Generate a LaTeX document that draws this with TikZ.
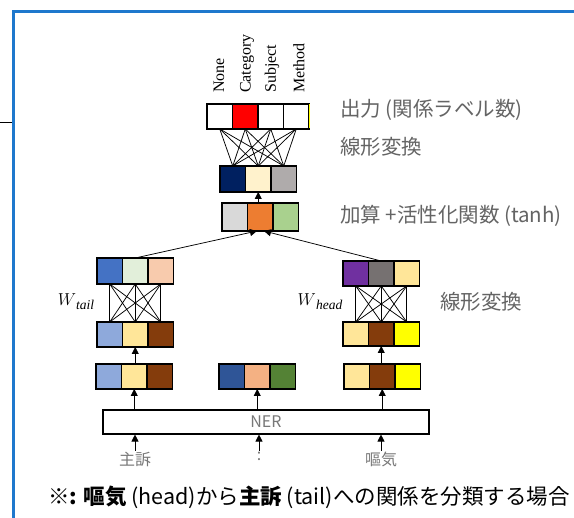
\documentclass[tikz,border=0pt]{standalone}
\usepackage{fontspec}
\setmainfont{Liberation Serif}
\newfontfamily\jp{Noto Sans CJK JP}
\usetikzlibrary{arrows.meta}
\definecolor{framecol}{RGB}{30,120,205}
\definecolor{labgray}{RGB}{100,100,100}
\definecolor{ltgray}{RGB}{120,120,120}
\definecolor{cRed}{RGB}{255,0,0}
\definecolor{cNavy}{RGB}{0,32,96}
\definecolor{cCream}{RGB}{255,242,204}
\definecolor{cGrayB}{RGB}{175,171,171}
\definecolor{cLtGray}{RGB}{217,217,217}
\definecolor{cOrange}{RGB}{237,125,49}
\definecolor{cGreen}{RGB}{169,209,142}
\definecolor{cBlue}{RGB}{68,114,196}
\definecolor{cLtGreen}{RGB}{226,239,218}
\definecolor{cPeach}{RGB}{248,203,173}
\definecolor{cLtBlue}{RGB}{142,169,219}
\definecolor{cLtYellow}{RGB}{255,230,153}
\definecolor{cBrown}{RGB}{132,60,12}
\definecolor{cYellow}{RGB}{255,255,0}
\definecolor{cDkBlue}{RGB}{47,85,151}
\definecolor{cSalmon}{RGB}{244,177,131}
\definecolor{cDkGreen}{RGB}{84,130,53}
\definecolor{cPurple}{RGB}{112,48,160}
\definecolor{cGrayD}{RGB}{118,113,113}
\newcommand\cellrow[7]{%
  \node[cell, minimum height=#4pt, fill=#5] (#1a) at (#2+12.75,#3) {};
  \node[cell, minimum height=#4pt, fill=#6] (#1b) at (#2+38.25,#3) {};
  \node[cell, minimum height=#4pt, fill=#7] (#1c) at (#2+63.75,#3) {};
}
\newcommand\wsub[2]{$#1$\raisebox{-4pt}{\fontsize{13.5}{13.5}\selectfont$\mathit{#2}$}}
\begin{document}
\begin{tikzpicture}[x=1pt,y=-1pt,
  cell/.style={draw, line width=1.1pt, minimum width=25.5pt, inner sep=0pt, outer sep=0pt},
  fc/.style={line width=0.75pt},
  arr/.style={-{Triangle[length=7pt,width=7pt]}, line width=0.75pt},
  lab/.style={font=\jp\fontsize{20.5}{20.5}\selectfont, text=labgray, anchor=west, inner sep=0pt},
  rlab/.style={font=\fontsize{16}{16}\selectfont, rotate=90, anchor=west, inner sep=0pt},
  word/.style={font=\jp\fontsize{16}{16}\selectfont, text=ltgray, anchor=north, inner sep=1pt},
  wlab/.style={font=\fontsize{19}{19}\selectfont, inner sep=0pt}]
\clip (0,0) rectangle (574,518);
\fill[white] (0,0) rectangle (574,518);
% frame
\draw[framecol, line width=3pt] (13.8,530) -- (13.8,11.5) -- (580,11.5);
\draw[line width=1pt] (0,123) -- (12.3,123);
% output row
\node[cell, minimum height=25pt, fill=white] (o1) at (219.75,116.5) {};
\node[cell, minimum height=25pt, fill=cRed] (o2) at (245.25,116.5) {};
\node[cell, minimum height=25pt, fill=white] (o3) at (270.75,116.5) {};
\node[cell, minimum height=25pt, fill=white] (o4) at (296.25,116.5) {};
\draw[cYellow, line width=1pt] (309.6,104.5) -- (309.6,128.5);
% rotated labels
\node[rlab] (l1) at (219,93) {None};
\node[rlab] (l2) at (247,93) {Category};
\node[rlab] (l3) at (272,93) {Subject};
\node[rlab] (l4) at (299,93) {Method};
% middle row
\cellrow{m}{220}{179}{26}{cNavy}{cCream}{cGrayB}
% add row
\cellrow{a}{222}{217}{28}{cLtGray}{cOrange}{cGreen}
% tail
\cellrow{tt}{97}{271}{26}{cBlue}{cLtGreen}{cPeach}
\cellrow{ts}{97}{334.5}{25}{cLtBlue}{cLtYellow}{cBrown}
\cellrow{tl}{96}{376.5}{25}{cLtBlue}{cLtYellow}{cBrown}
% middle input
\cellrow{ml}{219}{376.5}{25}{cDkBlue}{cSalmon}{cDkGreen}
% head
\cellrow{ht}{343}{273.5}{25}{cPurple}{cGrayD}{cLtYellow}
\cellrow{hs}{343}{334}{24}{cLtYellow}{cBrown}{cYellow}
\cellrow{hl}{344}{376.5}{25}{cLtYellow}{cBrown}{cYellow}
% fully connected: output <- middle
\foreach \i in {1,2,3,4}{\foreach \j in {a,b,c}{\draw[fc] (o\i.south) -- (m\j.north);}}
% fully connected: tail and head
\foreach \i in {a,b,c}{\foreach \j in {a,b,c}{
  \draw[fc] (tt\i.south) -- (ts\j.north);
  \draw[fc] (ht\i.south) -- (hs\j.north);}}
% arrows
\draw[arr] (mb.south |- ab.north) -- (mb.south);
\coordinate (in1) at (257,231);
\coordinate (in2) at (264,231);
\draw[arr] (ttb.north) -- (in1);
\draw[arr] (htb.north) -- (in2);
\draw[arr] (tsb.south |- tlb.north) -- (tsb.south);
\draw[arr] (hsb.south |- hlb.north) -- (hsb.south);
% W labels
\node[wlab] (wt) at (76,302) {\wsub{W}{tail}};
\node[wlab] (wh) at (320,302) {\wsub{W}{head}};
% NER
\node[draw, line width=1.1pt, minimum width=326pt, minimum height=24pt, inner sep=0pt,
      font=\jp\fontsize{16}{16}\selectfont, text=ltgray] (ner) at (266,422) {NER};
\draw[arr] (tlb.south |- ner.north) -- (tlb.south);
\draw[arr] (mlb.south |- ner.north) -- (mlb.south);
\draw[arr] (hlb.south |- ner.north) -- (hlb.south);
% input words
\node[word] (w1) at (135,451) {主訴};
\node[word] (w2) at (259,451) {:};
\node[word] (w3) at (381,451) {嘔気};
\draw[arr] (w1.north) -- (w1.north |- ner.south);
\draw[arr] (w2.north) -- (w2.north |- ner.south);
\draw[arr] (w3.north) -- (w3.north |- ner.south);
% right labels
\node[lab] (r1) at (340,110) {出力 (関係ラベル数)};
\node[lab] (r2) at (340,147) {線形変換};
\node[lab] (r3) at (340,216) {加算 +活性化関数 (tanh)};
\node[lab] (r4) at (440,302) {線形変換};
% caption
\node[anchor=west, inner sep=0pt, font=\jp\fontsize{21.5}{21.5}\selectfont] (cap) at (48,497)
  {※\textbf{:} \textbf{嘔気} (head)から\textbf{主訴} (tail)への関係を分類する場合};
\end{tikzpicture}
\end{document}
